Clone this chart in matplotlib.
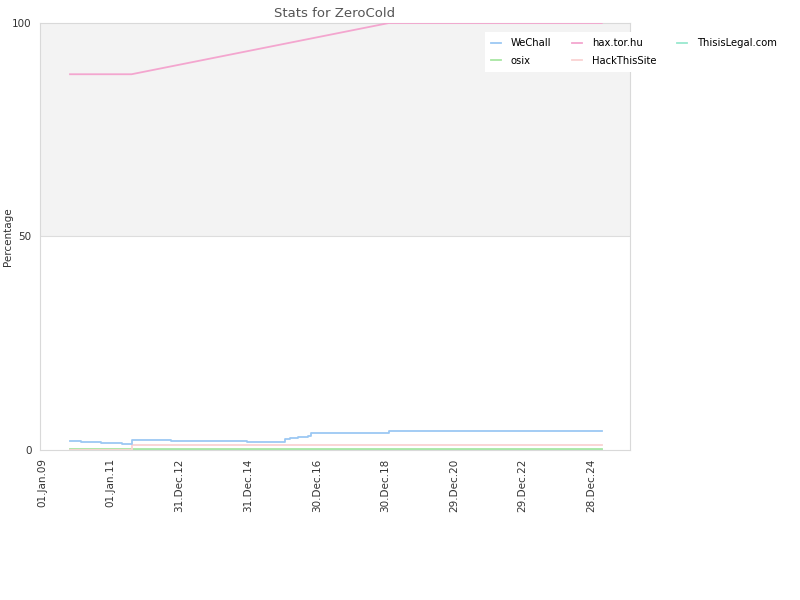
import matplotlib
matplotlib.use("Agg")
import matplotlib.pyplot as plt
import matplotlib.dates as mdates
import numpy as np
from datetime import datetime, timedelta

# ---- data ----
wechall_dates = ["2009-10-26", "2010-02-16", "2010-09-20", "2011-04-30", "2011-08-11",
                 "2012-09-29", "2014-12-17", "2016-01-28", "2016-03-21", "2016-06-14",
                 "2016-09-25", "2016-10-30", "2019-02-06", "2025-04-17"]
wechall_values = [2.1, 1.9, 1.6, 1.4, 2.3, 2.1, 1.9, 2.6, 2.9, 3.1, 3.35, 4.0, 4.5, 4.5]

haxtor_dates = ["2009-10-26", "2011-08-11", "2019-02-06", "2025-04-17"]
haxtor_values = [88, 88, 100, 100]

osix_dates = ["2009-10-26", "2025-04-17"]
osix_values = [0.2, 0.2]

hts_dates = ["2009-10-26", "2011-08-11", "2025-04-17"]
hts_values = [0, 1.25, 1.25]

thisislegal_dates = ["2009-10-26", "2025-04-17"]
thisislegal_values = [0, 0]

tick_start = "2009-01-01"
tick_step_days = 730
n_ticks = 9
x_min = "2008-12-11"
x_max = "2026-02-11"

title = "Stats for ZeroCold"
ylabel = "Percentage"

colors = {
    "WeChall": "#9cc8f3",
    "hax.tor.hu": "#f3a6cf",
    "ThisisLegal.com": "#99e8cf",
    "osix": "#a8e6a3",
    "HackThisSite": "#fad2d2",
}

def d(s):
    return datetime.strptime(s, "%Y-%m-%d")

fig = plt.figure(figsize=(8, 6), dpi=100)
ax = fig.add_axes([40/800, 1 - 450/600, 590/800, 427/600])

ax.axhspan(50, 100, color="#f3f3f3", zorder=0, lw=0)
ax.axhline(50, color="#dddddd", lw=0.8, zorder=0.5)

lw = 1.3
ax.plot([d(s) for s in thisislegal_dates], thisislegal_values, color=colors["ThisisLegal.com"],
        lw=lw, drawstyle="steps-post", label="ThisisLegal.com", zorder=2)
ax.plot([d(s) for s in osix_dates], osix_values, color=colors["osix"],
        lw=lw, drawstyle="steps-post", label="osix", zorder=2)
ax.plot([d(s) for s in hts_dates], hts_values, color=colors["HackThisSite"],
        lw=lw, drawstyle="steps-post", label="HackThisSite", zorder=3)
ax.plot([d(s) for s in haxtor_dates], haxtor_values, color=colors["hax.tor.hu"],
        lw=lw, label="hax.tor.hu", zorder=3)
ax.plot([d(s) for s in wechall_dates], wechall_values, color=colors["WeChall"],
        lw=lw, drawstyle="steps-post", label="WeChall", zorder=4)

ax.set_ylim(0, 100)
ax.set_yticks([0, 50, 100])
ax.set_xlim(d(x_min), d(x_max))
ticks = [d(tick_start) + timedelta(days=tick_step_days * i) for i in range(n_ticks)]
ax.set_xticks(ticks)
ax.set_xticklabels([t.strftime("%d.%b.%y") for t in ticks], rotation=90)
ax.tick_params(length=0, labelsize=7.5, colors="#333333", pad=6)

for sp in ax.spines.values():
    sp.set_color("#d9d9d9")
    sp.set_linewidth(0.8)

ax.set_title(title, fontsize=9.5, color="#555555", pad=4)
fig.text(8/800, 1 - 237/600, ylabel, rotation=90, ha="center", va="center",
         fontsize=7.5, color="#333333")

handles, labels = ax.get_legend_handles_labels()
order = ["WeChall", "osix", "hax.tor.hu", "HackThisSite", "ThisisLegal.com"]
hmap = dict(zip(labels, handles))
leg = fig.legend([hmap[k] for k in order], order, ncol=3, loc="upper left",
                 bbox_to_anchor=(485/800, 1 - 32/600), frameon=True, fontsize=7.2,
                 handlelength=1.0, handletextpad=1.0, columnspacing=2.05,
                 borderpad=0.6, labelspacing=0.75, borderaxespad=0)
leg.get_frame().set_facecolor("white")
leg.get_frame().set_edgecolor("none")
leg.get_frame().set_alpha(1.0)
leg.get_frame().set_boxstyle("square", pad=0)

fig.savefig("out.png", dpi=100)
